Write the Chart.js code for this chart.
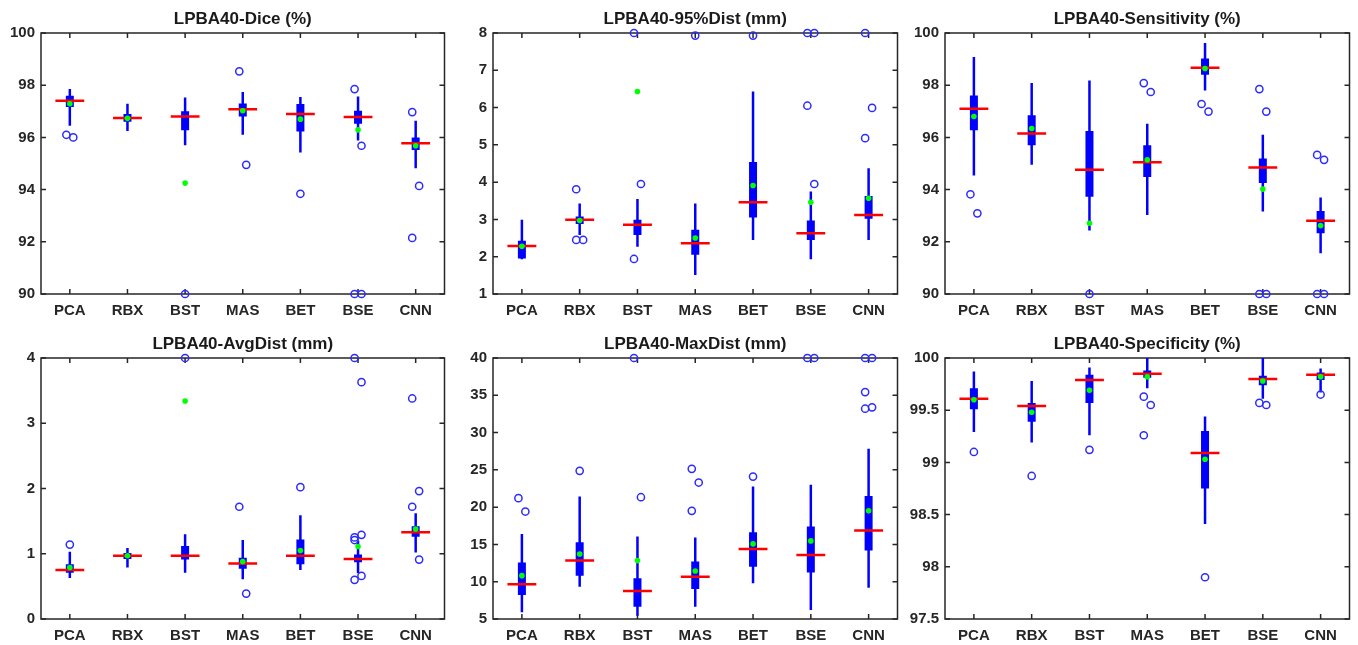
<!DOCTYPE html>
<html>
<head>
<meta charset="utf-8">
<script src="https://cdn.jsdelivr.net/npm/chart.js@4.4.1/dist/chart.umd.min.js"></script>
<style>
html, body { margin: 0; padding: 0; background: #fff; }
body { width: 1358px; height: 645px; position: relative; overflow: hidden; }
.panel { position: absolute; }
</style>
</head>
<body>
<div class="panel" id="p0"><canvas id="c0"></canvas></div>
<div class="panel" id="p1"><canvas id="c1"></canvas></div>
<div class="panel" id="p2"><canvas id="c2"></canvas></div>
<div class="panel" id="p3"><canvas id="c3"></canvas></div>
<div class="panel" id="p4"><canvas id="c4"></canvas></div>
<div class="panel" id="p5"><canvas id="c5"></canvas></div>
<script>
var methods = ['PCA', 'RBX', 'BST', 'MAS', 'BET', 'BSE', 'CNN'];

// Dice (%)
var diceLo   = [96.45, 96.25, 95.70, 96.10, 95.42, 95.88, 94.82];
var diceQ1   = [97.16, 96.60, 96.27, 96.80, 96.23, 96.52, 95.52];
var diceMed  = [97.40, 96.74, 96.80, 97.08, 96.90, 96.78, 95.78];
var diceQ3   = [97.60, 96.90, 97.00, 97.30, 97.28, 97.02, 96.00];
var diceHi   = [97.85, 97.29, 97.53, 97.74, 97.55, 97.57, 96.64];
var diceMean = [97.29, 96.73, 94.25, 97.02, 96.70, 96.29, 95.68];
var diceOut  = [[96.10, 96.00], [], [90.0], [98.53, 94.95], [93.84], [97.85, 95.68, 90.0, 90.0], [96.97, 94.14, 92.15]];

// 95% distance (mm)
var d95Lo   = [1.93, 2.58, 2.27, 1.51, 2.45, 1.93, 2.45];
var d95Q1   = [1.95, 2.88, 2.58, 2.05, 3.05, 2.45, 3.02];
var d95Med  = [2.29, 2.99, 2.86, 2.36, 3.46, 2.63, 3.12];
var d95Q3   = [2.43, 3.08, 2.99, 2.72, 4.54, 2.97, 3.63];
var d95Hi   = [2.99, 3.43, 3.55, 3.43, 6.43, 3.75, 4.37];
var d95Mean = [2.28, 2.97, 6.43, 2.50, 3.91, 3.46, 3.57];
var d95Out  = [[], [3.81, 2.45, 2.45], [8.0, 3.95, 1.94], [7.93], [7.93], [8.0, 8.0, 6.05, 3.95], [8.0, 5.99, 5.18]];

// Sensitivity (%)
var sensLo   = [94.54, 94.95, 92.43, 93.03, 97.80, 93.16, 91.56];
var sensQ1   = [96.27, 95.70, 93.73, 94.48, 98.40, 94.25, 92.33];
var sensMed  = [97.10, 96.15, 94.76, 95.05, 98.67, 94.85, 92.81];
var sensQ3   = [97.61, 96.85, 96.25, 95.70, 99.02, 95.19, 93.18];
var sensHi   = [99.08, 98.08, 98.18, 96.52, 99.62, 96.10, 93.70];
var sensMean = [96.80, 96.34, 92.71, 95.14, 98.64, 94.02, 92.62];
var sensOut  = [[93.82, 93.09], [], [90.0], [98.08, 97.74], [97.28, 96.99], [97.85, 96.99, 90.0, 90.0], [95.33, 95.14, 90.0, 90.0]];

// Average distance (mm)
var avgLo   = [0.63, 0.79, 0.71, 0.61, 0.75, 0.70, 1.02];
var avgQ1   = [0.71, 0.92, 0.91, 0.77, 0.84, 0.87, 1.26];
var avgMed  = [0.75, 0.97, 0.97, 0.85, 0.97, 0.92, 1.33];
var avgQ3   = [0.84, 1.01, 1.12, 0.94, 1.22, 0.99, 1.42];
var avgHi   = [1.03, 1.09, 1.30, 1.21, 1.59, 1.20, 1.62];
var avgMean = [0.79, 0.97, 3.34, 0.88, 1.05, 1.11, 1.38];
var avgOut  = [[1.14], [], [4.0], [1.72, 0.39], [2.02], [4.0, 3.63, 1.25, 1.29, 1.21, 0.66, 0.60], [3.38, 1.96, 1.72, 0.91]];

// Max distance (mm)
var maxLo   = [5.89, 9.34, 5.44, 6.65, 9.79, 6.20, 9.20];
var maxQ1   = [8.22, 10.81, 6.65, 9.02, 12.02, 11.22, 14.17];
var maxMed  = [9.65, 12.83, 8.76, 10.68, 14.40, 13.59, 16.86];
var maxQ3   = [12.56, 15.29, 10.46, 12.70, 16.63, 17.40, 21.51];
var maxHi   = [16.41, 21.42, 16.05, 15.92, 22.77, 23.00, 27.82];
var maxMean = [10.81, 13.72, 12.83, 11.44, 15.07, 15.47, 19.50];
var maxOut  = [[21.2, 19.41], [24.87], [40.0, 21.33], [25.14, 23.30, 19.50], [24.10], [40.0, 40.0], [40.0, 40.0, 35.43, 33.38, 33.20]];

// Specificity (%)
var specLo   = [99.29, 99.19, 99.26, 99.71, 98.41, 99.61, 99.67];
var specQ1   = [99.51, 99.39, 99.57, 99.81, 98.75, 99.74, 99.79];
var specMed  = [99.61, 99.54, 99.79, 99.85, 99.09, 99.80, 99.84];
var specQ3   = [99.71, 99.57, 99.84, 99.88, 99.30, 99.83, 99.86];
var specHi   = [99.87, 99.78, 99.91, 100.0, 99.44, 100.0, 99.90];
var specMean = [99.60, 99.48, 99.69, 99.82, 99.03, 99.78, 99.82];
var specOut  = [[99.10], [98.87], [99.12], [99.63, 99.55, 99.26], [97.90], [99.57, 99.55], [99.65]];

var FONT = '"Liberation Sans", Arial, sans-serif';
var INK = '#262626';

// box frame with inward ticks on all four sides, plus the axes title
var framePlugin = {
    id: 'frame',
    beforeDatasetsDraw: function(chart, args, opts) {
        var a = chart.chartArea, ctx = chart.ctx;
        var xs = chart.scales.x, ys = chart.scales.y;
        ctx.save();
        ctx.strokeStyle = INK;
        ctx.lineWidth = 1.5;
        ctx.strokeRect(a.left, a.top, a.right - a.left, a.bottom - a.top);
        ctx.beginPath();
        ys.ticks.forEach(function(t) {
            var py = ys.getPixelForValue(t.value);
            ctx.moveTo(a.left, py); ctx.lineTo(a.left + 5, py);
            ctx.moveTo(a.right, py); ctx.lineTo(a.right - 5, py);
        });
        xs.ticks.forEach(function(t) {
            var px = xs.getPixelForValue(t.value);
            ctx.moveTo(px, a.bottom); ctx.lineTo(px, a.bottom - 5);
            ctx.moveTo(px, a.top); ctx.lineTo(px, a.top + 5);
        });
        ctx.stroke();
        ctx.fillStyle = '#1a1a1a';
        ctx.font = 'bold 17px ' + FONT;
        ctx.textAlign = 'center';
        ctx.textBaseline = 'middle';
        ctx.fillText(opts.text, (a.left + a.right) / 2, a.top - 14);
        ctx.restore();
    }
};

// vertical segments i: lo -> hi, broken by gaps
function segments(lo, hi) {
    var pts = [];
    lo.forEach(function(v, i) {
        pts.push({x: i, y: v}, {x: i, y: hi[i]}, {x: i, y: null});
    });
    return pts;
}

function medianSegs(med) {
    var pts = [];
    med.forEach(function(v, i) {
        pts.push({x: i - 0.25, y: v}, {x: i + 0.25, y: v}, {x: i + 0.25, y: null});
    });
    return pts;
}

function outlierPts(out) {
    var pts = [];
    out.forEach(function(list, i) {
        list.forEach(function(v, k) {
            var dx = list.length > 1 ? (k % 2 ? 0.06 : -0.06) : 0;
            pts.push({x: i + dx, y: v});
        });
    });
    return pts;
}

function makePanel(n, title, lo, q1, med, q3, hi, mean, out, yMin, yMax, yStep, plotL, plotR, top, plotB) {
    var yW = 41, xH = 26, padR = 3;
    var left = plotL - yW;
    var w = plotR - left + padR;
    var h = plotB - top + xH;
    var div = document.getElementById('p' + n);
    div.style.left = left + 'px';
    div.style.top = top + 'px';
    var cv = document.getElementById('c' + n);
    cv.width = w; cv.height = h;
    cv.style.width = w + 'px'; cv.style.height = h + 'px';

    new Chart(cv, {
        type: 'line',
        data: {
            datasets: [
                {   // means
                    data: mean.map(function(v, i) { return {x: i, y: v}; }),
                    showLine: false, pointRadius: 2.8, pointBorderWidth: 0,
                    pointBackgroundColor: '#00ff00', clip: false
                },
                {   // medians
                    data: medianSegs(med), borderColor: '#ff0000', borderWidth: 2.5,
                    pointRadius: 0, spanGaps: false, borderCapStyle: 'butt', clip: false
                },
                {   // outliers
                    data: outlierPts(out), showLine: false, pointRadius: 3.6,
                    pointBorderWidth: 1.5, pointBorderColor: '#2b2bff',
                    pointBackgroundColor: 'rgba(0,0,0,0)', clip: false
                },
                {   // boxes
                    data: segments(q1, q3), borderColor: '#0000ff', borderWidth: 8,
                    pointRadius: 0, spanGaps: false, borderCapStyle: 'butt', clip: false
                },
                {   // whiskers
                    data: segments(lo, hi), borderColor: '#0000ff', borderWidth: 2.5,
                    pointRadius: 0, spanGaps: false, borderCapStyle: 'butt', clip: false
                }
            ]
        },
        options: {
            responsive: false,
            animation: false,
            events: [],
            layout: { padding: { top: 33, right: padR, left: 0, bottom: 0 } },
            plugins: {
                legend: { display: false },
                tooltip: { enabled: false },
                frame: { text: title }
            },
            scales: {
                x: {
                    type: 'linear', min: -0.5, max: 6.5,
                    afterBuildTicks: function(s) {
                        s.ticks = methods.map(function(m, i) { return {value: i}; });
                    },
                    afterFit: function(s) { s.height = xH; },
                    grid: { display: false, drawTicks: false },
                    border: { display: false },
                    ticks: {
                        autoSkip: false, maxRotation: 0, padding: 8, color: INK,
                        font: { family: FONT, size: 15, weight: 'bold' },
                        callback: function(v) { return methods[v]; }
                    }
                },
                y: {
                    min: yMin, max: yMax,
                    afterFit: function(s) { s.width = yW; },
                    grid: { display: false, drawTicks: false },
                    border: { display: false },
                    ticks: {
                        stepSize: yStep, padding: 6, color: INK,
                        font: { family: FONT, size: 15, weight: 'bold' },
                        callback: function(v) { return String(+v.toFixed(2)); }
                    }
                }
            }
        },
        plugins: [framePlugin]
    });
}

makePanel(0, 'LPBA40-Dice (%)', diceLo, diceQ1, diceMed, diceQ3, diceHi, diceMean, diceOut, 90, 100, 2, 41, 447, 0, 294);
makePanel(1, 'LPBA40-95%Dist (mm)', d95Lo, d95Q1, d95Med, d95Q3, d95Hi, d95Mean, d95Out, 1, 8, 1, 493, 900, 0, 294);
makePanel(2, 'LPBA40-Sensitivity (%)', sensLo, sensQ1, sensMed, sensQ3, sensHi, sensMean, sensOut, 90, 100, 2, 945, 1352, 0, 294);
makePanel(3, 'LPBA40-AvgDist (mm)', avgLo, avgQ1, avgMed, avgQ3, avgHi, avgMean, avgOut, 0, 4, 1, 41, 447, 325, 619);
makePanel(4, 'LPBA40-MaxDist (mm)', maxLo, maxQ1, maxMed, maxQ3, maxHi, maxMean, maxOut, 5, 40, 5, 493, 900, 325, 619);
makePanel(5, 'LPBA40-Specificity (%)', specLo, specQ1, specMed, specQ3, specHi, specMean, specOut, 97.5, 100, 0.5, 945, 1352, 325, 619);
</script>
</body>
</html>
